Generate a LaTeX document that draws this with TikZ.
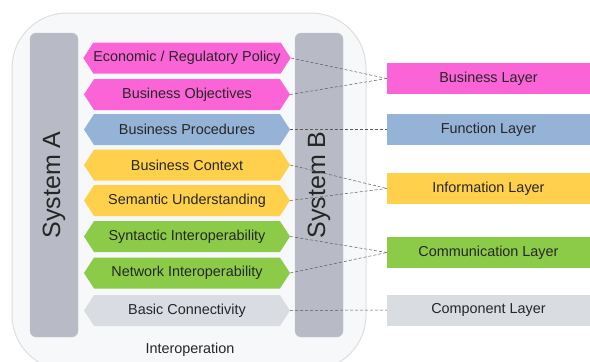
\documentclass[tikz,border=0pt]{standalone}
\usepackage{fontspec}
\setmainfont{Liberation Sans}
\usepackage{tikz}
\usetikzlibrary{shapes,positioning}

\definecolor{bizpink}{HTML}{FA64D7}
\definecolor{funcblue}{HTML}{95B3D7}
\definecolor{infoyellow}{HTML}{FFD04B}
\definecolor{commgreen}{HTML}{8CCB47}
\definecolor{compgray}{HTML}{D9DCE1}
\definecolor{barcolor}{HTML}{B8BBC6}
\definecolor{framefill}{HTML}{F7F8FA}

\begin{document}
\begin{tikzpicture}[x=1pt, y=-1pt,
   txt/.style={font=\fontsize{14.4}{17}\selectfont, text=black!85},
   hexa/.style={txt, shape=signal, signal to=west and east, signal pointer angle=114,
      minimum width=206pt, minimum height=31pt, inner sep=0pt},
   layer/.style={txt, rectangle, minimum width=203pt, minimum height=31pt, inner sep=0pt},
   sysbar/.style={rectangle, rounded corners=6pt, fill=barcolor, draw=black!22,
      minimum width=304pt, minimum height=48pt, rotate=90,
      font=\fontsize{25}{28}\selectfont, text=black!85},
   link/.style={densely dashed, black!65, line width=0.5pt}]

   \clip (0,0) rectangle (590,362);

   % interoperation frame
   \draw[rounded corners=55pt, draw=black!13, fill=framefill, line width=1pt] (12,13) rectangle (366,370);
   \node[txt] (interop) at (190,350) {Interoperation};

   % the two systems
   \node[sysbar] (sysA) at (54,185) {System A};
   \node[sysbar] (sysB) at (319,185) {System B};

   % stack
   \node[hexa, fill=bizpink] (econ) at (187,58) {Economic / Regulatory Policy};
   \node[hexa, fill=bizpink] (obj) at (187,94.5) {Business Objectives};
   \node[hexa, fill=funcblue] (proc) at (187,129.5) {Business Procedures};
   \node[hexa, fill=infoyellow] (ctx) at (187,165) {Business Context};
   \node[hexa, fill=infoyellow] (sem) at (187,200.5) {Semantic Understanding};
   \node[hexa, fill=commgreen] (syn) at (187,236.5) {Syntactic Interoperability};
   \node[hexa, fill=commgreen] (net) at (187,273) {Network Interoperability};
   \node[hexa, fill=compgray] (conn) at (187,310.5) {Basic Connectivity};

   % layers
   \node[layer, fill=bizpink] (busL) at (488.5,78.5) {Business Layer};
   \node[layer, fill=funcblue] (funL) at (488.5,129.5) {Function Layer};
   \node[layer, fill=infoyellow] (infL) at (488.5,188.5) {Information Layer};
   \node[layer, fill=commgreen] (comL) at (488.5,252.5) {Communication Layer};
   \node[layer, fill=compgray] (cmpL) at (488.5,310) {Component Layer};

   % mapping
   \draw[link] (econ.east) -- (busL.west);
   \draw[link] (obj.east) -- (busL.west);
   \draw[link] (proc.east) -- (funL.west);
   \draw[link] (ctx.east) -- (infL.west);
   \draw[link] (sem.east) -- (infL.west);
   \draw[link] (syn.east) -- (comL.west);
   \draw[link] (net.east) -- (comL.west);
   \draw[link] (conn.east) -- (cmpL.west);
\end{tikzpicture}
\end{document}
